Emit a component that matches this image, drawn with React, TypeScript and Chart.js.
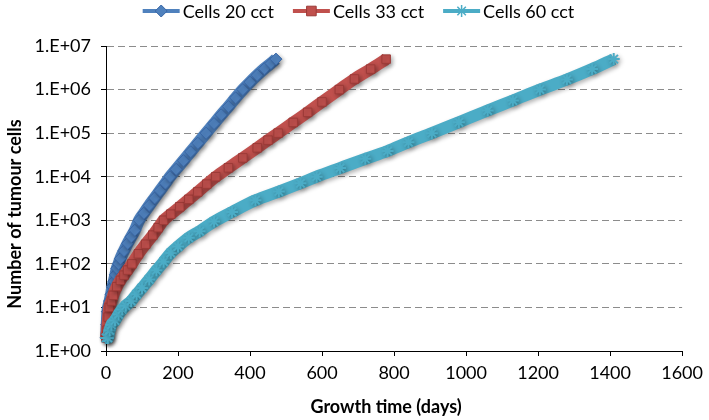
import React, { useEffect, useRef } from "react";
import { Chart, registerables } from "chart.js";

Chart.register(...registerables);

// ---- Data (growth time in days, number of tumour cells) ----
const seriesNames = ["Cells 20 cct", "Cells 33 cct", "Cells 60 cct"];

const days20 = [0, 2, 4, 6, 10, 14, 18, 22, 26, 30, 35, 40, 50, 60, 70, 80, 92, 105, 120, 135, 150, 165, 178, 195, 215, 235, 255, 278, 300, 320, 340, 360, 380, 400, 420, 440, 458, 472];
const cells20 = [2, 4, 8, 10, 14, 20, 30, 40, 56, 79, 100, 132, 200, 295, 417, 589, 1000, 1450, 2190, 3240, 4790, 7080, 1.0e4, 1.48e4, 2.34e4, 3.72e4, 5.89e4, 1.0e5, 1.66e5, 2.63e5, 4.07e5, 6.46e5, 1.0e6, 1.48e6, 2.14e6, 3.02e6, 3.98e6, 5.0e6];

const days33 = [0, 3, 6, 9, 15, 20, 30, 40, 50, 60, 72, 90, 110, 130, 145, 160, 180, 205, 230, 255, 280, 305, 340, 380, 420, 450, 478, 520, 560, 600, 648, 690, 735, 778];
const cells33 = [2, 3, 6, 10, 14, 19, 30, 42, 55, 72, 100, 170, 282, 457, 676, 1000, 1380, 2040, 3020, 4470, 6760, 1.0e4, 1.6e4, 2.7e4, 4.6e4, 6.9e4, 1.0e5, 1.76e5, 3.0e5, 5.2e5, 1.0e6, 1.75e6, 2.95e6, 5.0e6];

const days60 = [0, 5, 10, 15, 25, 35, 45, 55, 70, 85, 100, 120, 140, 160, 180, 200, 230, 260, 300, 350, 415, 480, 540, 585, 650, 720, 782, 840, 905, 980, 1060, 1130, 1205, 1280, 1350, 1410];
const cells60 = [2, 2, 3, 4, 5, 7, 9, 11, 14, 20, 28, 44, 71, 112, 178, 251, 398, 562, 933, 1550, 2880, 4570, 7080, 1.0e4, 1.58e4, 2.57e4, 3.89e4, 6.17e4, 1.0e5, 1.78e5, 3.31e5, 5.62e5, 1.0e6, 1.7e6, 2.95e6, 5.0e6];

const yTickValues = [1, 10, 100, 1000, 1e4, 1e5, 1e6, 1e7];
const yTickLabels = ["1.E+00", "1.E+01", "1.E+02", "1.E+03", "1.E+04", "1.E+05", "1.E+06", "1.E+07"];
const xTickValues = [0, 200, 400, 600, 800, 1000, 1200, 1400, 1600];
const xTickLabels = ["0", "200", "400", "600", "800", "1000", "1200", "1400", "1600"];

const xTitle = "Growth time (days)";
const yTitle = "Number of tumour cells";

const FONT = "Lato, 'Open Sans', 'DejaVu Sans', sans-serif";

const COLORS = ["#4F81BD", "#C0504D", "#4BACC6"];
const EDGES = ["#3A67A6", "#9C3A37", "#3B9BB5"];
const MARKERS = ["diamond", "square", "star"];

function drawMarker(ctx: CanvasRenderingContext2D, kind: string, x: number, y: number, r: number, fill: string, edge: string) {
  ctx.save();
  ctx.fillStyle = fill;
  ctx.strokeStyle = edge;
  ctx.lineWidth = 1;
  ctx.beginPath();
  if (kind === "diamond") {
    ctx.moveTo(x, y - r);
    ctx.lineTo(x + r, y);
    ctx.lineTo(x, y + r);
    ctx.lineTo(x - r, y);
    ctx.closePath();
    ctx.fill();
    ctx.stroke();
  } else if (kind === "square") {
    ctx.rect(x - r * 0.8, y - r * 0.8, r * 1.6, r * 1.6);
    ctx.fill();
    ctx.stroke();
  } else {
    ctx.strokeStyle = fill;
    ctx.lineWidth = 1.5;
    for (let k = 0; k < 4; k++) {
      const a = (Math.PI / 4) * k;
      ctx.moveTo(x - Math.cos(a) * r, y - Math.sin(a) * r);
      ctx.lineTo(x + Math.cos(a) * r, y + Math.sin(a) * r);
    }
    ctx.stroke();
  }
  ctx.restore();
}

const shadowPlugin = {
  id: "shadowPlugin",
  beforeDatasetsDraw(chart: any) {
    const c = chart.ctx;
    c.save();
    c.shadowColor = "rgba(0,0,0,0.3)";
    c.shadowBlur = 4;
    c.shadowOffsetX = 2;
    c.shadowOffsetY = 2;
  },
  afterDatasetsDraw(chart: any) {
    chart.ctx.restore();
  },
};

const decorPlugin = {
  id: "decorPlugin",
  afterDraw(chart: any) {
    const ctx: CanvasRenderingContext2D = chart.ctx;
    const area = chart.chartArea;
    ctx.save();
    // Legend
    ctx.font = `18px ${FONT}`;
    ctx.textBaseline = "middle";
    ctx.textAlign = "left";
    const lineLen = 37;
    const gapText = 3;
    const gapItem = 19;
    const widths = seriesNames.map((n) => ctx.measureText(n).width);
    const total = widths.reduce((s, w) => s + lineLen + gapText + w, 0) + gapItem * (seriesNames.length - 1);
    let x = chart.width / 2 - total / 2 + 4;
    const ly = 11;
    seriesNames.forEach((name, i) => {
      ctx.strokeStyle = COLORS[i];
      ctx.lineWidth = 4;
      ctx.beginPath();
      ctx.moveTo(x, ly);
      ctx.lineTo(x + lineLen, ly);
      ctx.stroke();
      drawMarker(ctx, MARKERS[i], x + lineLen / 2, ly, 6, COLORS[i], EDGES[i]);
      ctx.fillStyle = "#000";
      ctx.fillText(name, x + lineLen + gapText, ly + 1);
      x += lineLen + gapText + widths[i] + gapItem;
    });
    // Axis titles
    ctx.font = `bold 18px ${FONT}`;
    ctx.fillStyle = "#000";
    ctx.textAlign = "center";
    ctx.fillText(xTitle, (area.left + area.right) / 2 - 8, 407);
    ctx.translate(15, 214);
    ctx.rotate(-Math.PI / 2);
    ctx.fillText(yTitle, 0, 0);
    ctx.restore();
  },
};

export default function App() {
  const canvasRef = useRef<HTMLCanvasElement | null>(null);

  useEffect(() => {
    if (!canvasRef.current) return;
    const mk = (xs: number[], ys: number[]) => xs.map((d, i) => ({ x: d, y: ys[i] }));
    const series = [mk(days20, cells20), mk(days33, cells33), mk(days60, cells60)];
    const pointStyles = ["rectRot", "rect", "star"];
    const chart = new Chart(canvasRef.current, {
      type: "scatter",
      data: {
        datasets: series.map((data, i) => ({
          label: seriesNames[i],
          data,
          showLine: true,
          borderColor: COLORS[i],
          backgroundColor: COLORS[i],
          borderWidth: 12,
          pointStyle: pointStyles[i] as any,
          pointRadius: 6,
          pointBorderWidth: i === 2 ? 2 : 1,
          pointBorderColor: i === 2 ? COLORS[i] : EDGES[i],
          pointBackgroundColor: COLORS[i],
          cubicInterpolationMode: "monotone",
          order: 3 - i,
          clip: false as any,
        })),
      },
      options: {
        animation: false,
        responsive: true,
        maintainAspectRatio: false,
        layout: { padding: { top: 46, right: 22, left: 0, bottom: 0 } },
        plugins: { legend: { display: false }, tooltip: { enabled: false } },
        scales: {
          x: {
            type: "linear",
            min: 0,
            max: 1600,
            afterBuildTicks: (s: any) => {
              s.ticks = xTickValues.map((v) => ({ value: v }));
            },
            afterFit: (s: any) => {
              s.height = 69;
            },
            ticks: {
              font: { family: FONT, size: 18 },
              color: "#000",
              padding: 6,
              maxRotation: 0,
              autoSkip: false,
              callback: (_v: any, i: number) => xTickLabels[i],
            },
            grid: { drawOnChartArea: false, drawTicks: true, tickLength: 5, tickColor: "#000" },
            border: { display: true, color: "#000", width: 1 },
          },
          y: {
            type: "logarithmic",
            min: 1,
            max: 1e7,
            afterBuildTicks: (s: any) => {
              s.ticks = yTickValues.map((v) => ({ value: v }));
            },
            afterFit: (s: any) => {
              s.width = 106;
            },
            ticks: {
              font: { family: FONT, size: 18 },
              color: "#000",
              padding: 10,
              autoSkip: false,
              callback: (_v: any, i: number) => yTickLabels[i],
            },
            grid: { color: "#8c8c8c", lineWidth: 1, drawTicks: true, tickLength: 5, tickColor: "#000", tickBorderDash: [] },
            border: { display: true, color: "#000", width: 1, dash: [7, 4] },
          },
        },
      },
      plugins: [shadowPlugin, decorPlugin],
    } as any);
    return () => chart.destroy();
  }, []);

  return (
    <div style={{ position: "fixed", left: 0, top: 0, width: 709, height: 420, background: "#fff" }}>
      <canvas ref={canvasRef} />
    </div>
  );
}
